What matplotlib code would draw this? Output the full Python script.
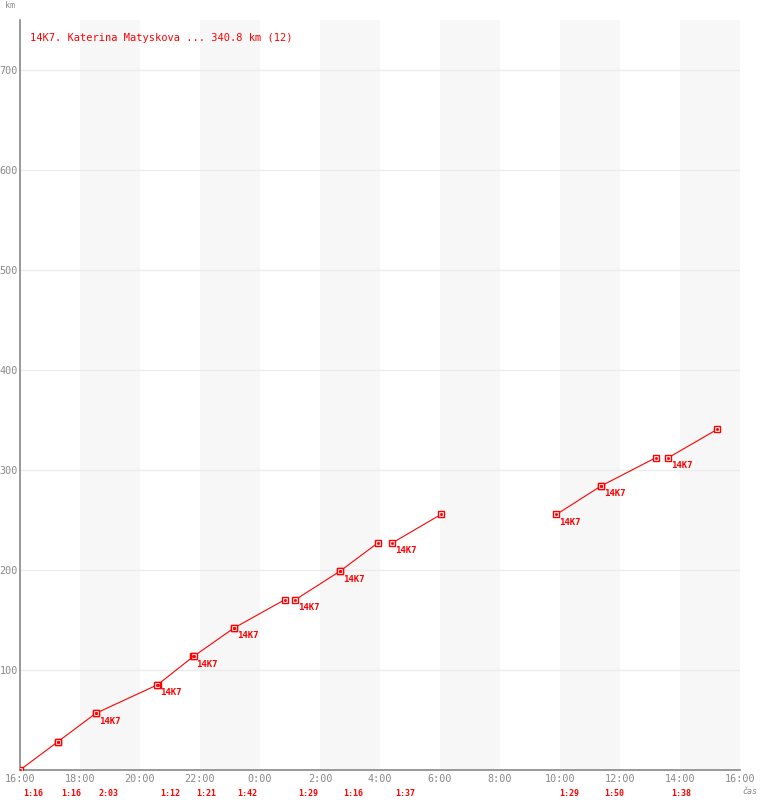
import matplotlib
matplotlib.use('Agg')
import matplotlib.pyplot as plt

# lap data (times from the start at 16:00)
lap_start = ['16:00', '17:16', '18:32', '20:35', '21:47', '23:08',
             '01:11', '02:40', '04:25', '09:53', '11:22', '13:37']
lap_time = ['1:16', '1:16', '2:03', '1:12', '1:21', '1:42',
            '1:29', '1:16', '1:37', '1:29', '1:50', '1:38']
km_start = [0.0, 28.4, 56.8, 85.2, 113.6, 142.0,
            170.4, 198.8, 227.2, 255.6, 284.0, 312.4]
km_end = [28.4, 56.8, 85.2, 113.6, 142.0, 170.4,
          198.8, 227.2, 255.6, 284.0, 312.4, 340.8]
show_tag = [False, False, True, True, True, True,
            True, True, True, True, True, True]
tag = '14K7'
title = '14K7. Katerina Matyskova ... 340.8 km (12)'
x_labels = ['16:00', '18:00', '20:00', '22:00', '0:00', '2:00', '4:00',
            '6:00', '8:00', '10:00', '12:00', '14:00', '16:00']
y_ticks = [100, 200, 300, 400, 500, 600, 700]


def hours(clock):
    h, m = clock.split(':')
    v = int(h) + int(m) / 60 - 16
    return v if v >= 0 else v + 24


def dur(s):
    h, m = s.split(':')
    return int(h) + int(m) / 60


red = '#ff0000'
gray = '#888888'
mono = 'DejaVu Sans Mono'

fig = plt.figure(figsize=(7.6, 8), dpi=100)
ax = fig.add_axes([20 / 760, 30 / 800, 720 / 760, 750 / 800])
ax.set_xlim(0, 24)
ax.set_ylim(0, 750)

# shaded 2-hour bands
for b in range(2, 24, 4):
    ax.axvspan(b, b + 2, color='#f7f7f7', lw=0, zorder=0)
for y in y_ticks:
    ax.axhline(y, color='#ebebeb', lw=1, zorder=1)

for i in range(len(lap_start)):
    t0 = hours(lap_start[i])
    t1 = t0 + dur(lap_time[i])
    ax.plot([t0, t1], [km_start[i], km_end[i]], color=red, lw=0.8, zorder=3)
    ax.plot([t0, t1], [km_start[i], km_end[i]], ls='none', marker='s', ms=5,
            mfc='white', mec=red, mew=1, zorder=4)
    ax.plot([t0, t1], [km_start[i], km_end[i]], ls='none', marker='s', ms=1,
            color=red, zorder=5)
    if show_tag[i]:
        ax.annotate(tag, (t0, km_start[i]), xytext=(2, -2.5),
                    textcoords='offset points', ha='left', va='top',
                    color=red, fontsize=6.5, fontweight='bold', family=mono)
    ax.annotate(lap_time[i], (t0, 0), xycoords=('data', 'axes fraction'),
                xytext=(2, -17), textcoords='offset points', ha='left',
                va='center', color=red, fontsize=6, fontweight='bold',
                family=mono)

ax.set_xticks(range(0, 25, 2))
ax.set_xticklabels(x_labels, family=mono, fontsize=7.3, color=gray)
ax.set_yticks(y_ticks)
ax.set_yticklabels([str(v) for v in y_ticks], family=mono, fontsize=7.3,
                   color=gray)
ax.tick_params(axis='x', length=0, pad=3)
ax.tick_params(axis='y', length=0, pad=1.5)
for s in ['top', 'right']:
    ax.spines[s].set_visible(False)
for s in ['left', 'bottom']:
    ax.spines[s].set_color(gray)
    ax.spines[s].set_linewidth(1.2)

fig.text(30 / 760, 1 - 38 / 800, title, color=red, fontsize=7.5,
         family=mono, va='center', ha='left')
fig.text(5 / 760, 1 - 6 / 800, 'km', color=gray, fontsize=6,
         family=mono, va='center')
fig.text(742 / 760, 1 - 791 / 800, 'čas', color=gray, fontsize=6,
         family=mono, va='center', style='italic')

fig.savefig('out.png', dpi=100)
